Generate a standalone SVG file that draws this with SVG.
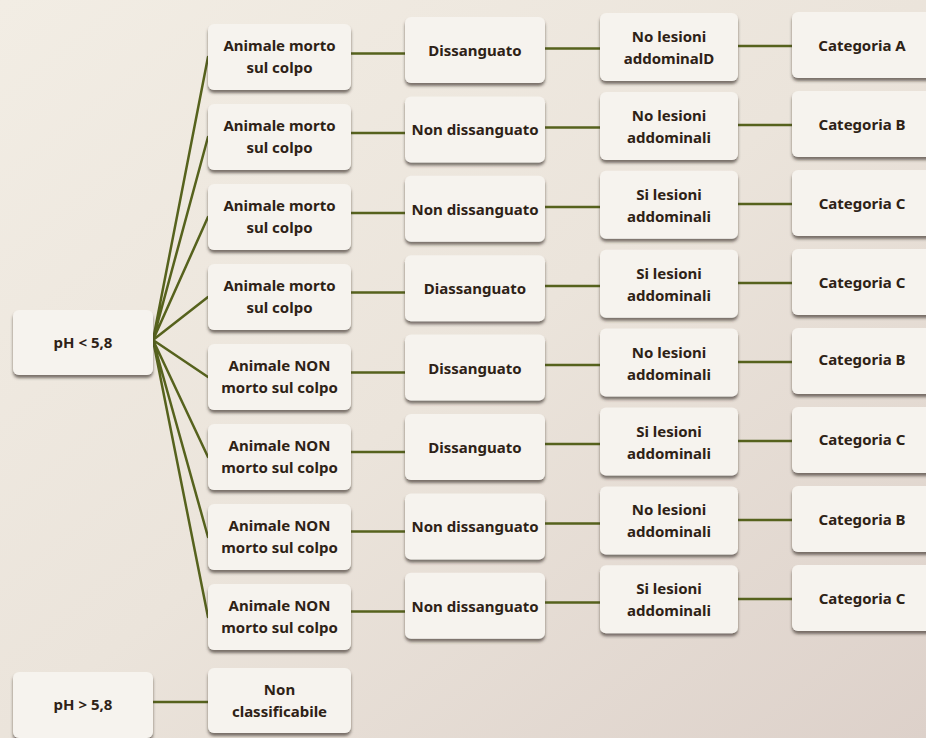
<svg xmlns="http://www.w3.org/2000/svg" width="926" height="738" viewBox="0 0 926 738">
<defs>
<linearGradient id="bg" x1="0" y1="0" x2="1" y2="1">
<stop offset="0" stop-color="#f2ede4"/>
<stop offset="0.5" stop-color="#ebe4db"/>
<stop offset="1" stop-color="#ddd1ca"/>
</linearGradient>
<filter id="sh" x="-10%" y="-10%" width="130%" height="140%">
<feDropShadow dx="0" dy="3" stdDeviation="1.8" flood-color="#3b302a" flood-opacity="0.65"/>
</filter>
<style>
.b{fill:#f6f3ee;filter:url(#sh)}
.t{font-family:"Noto Sans","Open Sans",sans-serif;font-weight:bold;font-size:15px;fill:#2e2216;text-anchor:middle;dominant-baseline:central}
.c{stroke:#56621d;stroke-width:2.5;fill:none;stroke-linecap:round}
</style>
</defs>
<rect width="926" height="738" fill="url(#bg)"/>

<g id="connectors" class="c">
<path d="M153 340L208 57M153 340L208 137M153 340L208 217M153 340L208 297M153 340L208 377M153 340L208 457M153 340L208 537M153 340L208 617"/>
<path d="M351 53.5H405M351 133H405M351 213H405M351 292.5H405M351 372.5H405M351 452H405M351 531.5H405M351 611.5H405"/>
<path d="M545 48.5H600M545 127.5H600M545 207H600M545 286H600M545 365H600M545 444H600M545 523.5H600M545 602.5H600"/>
<path d="M738 46H792M738 125H792M738 204H792M738 283H792M738 362H792M738 441H792M738 520H792M738 599H792"/>
<path d="M153 702H208"/>
</g>

<g id="ph_low"><rect class="b" x="13" y="310" width="140" height="65" rx="6"/><text class="t" x="83" y="342">pH &lt; 5,8</text></g>
<g id="ph_high"><rect class="b" x="13" y="672" width="140" height="66" rx="6"/><text class="t" x="83" y="704">pH &gt; 5,8</text></g>
<g id="non_class"><rect class="b" x="208" y="668" width="143" height="65" rx="6"/><text class="t" x="279.5" y="689">Non</text><text class="t" x="279.5" y="711">classificabile</text></g>

<g id="a1"><rect class="b" x="208" y="24" width="143" height="66" rx="6"/><text class="t" x="279.5" y="45">Animale morto</text><text class="t" x="279.5" y="67">sul colpo</text></g>
<g id="a2"><rect class="b" x="208" y="104" width="143" height="66" rx="6"/><text class="t" x="279.5" y="125">Animale morto</text><text class="t" x="279.5" y="147">sul colpo</text></g>
<g id="a3"><rect class="b" x="208" y="184" width="143" height="66" rx="6"/><text class="t" x="279.5" y="205">Animale morto</text><text class="t" x="279.5" y="227">sul colpo</text></g>
<g id="a4"><rect class="b" x="208" y="264" width="143" height="66" rx="6"/><text class="t" x="279.5" y="285">Animale morto</text><text class="t" x="279.5" y="307">sul colpo</text></g>
<g id="a5"><rect class="b" x="208" y="344" width="143" height="66" rx="6"/><text class="t" x="279.5" y="365">Animale NON</text><text class="t" x="279.5" y="387">morto sul colpo</text></g>
<g id="a6"><rect class="b" x="208" y="424" width="143" height="66" rx="6"/><text class="t" x="279.5" y="445">Animale NON</text><text class="t" x="279.5" y="467">morto sul colpo</text></g>
<g id="a7"><rect class="b" x="208" y="504" width="143" height="66" rx="6"/><text class="t" x="279.5" y="525">Animale NON</text><text class="t" x="279.5" y="547">morto sul colpo</text></g>
<g id="a8"><rect class="b" x="208" y="584" width="143" height="66" rx="6"/><text class="t" x="279.5" y="605">Animale NON</text><text class="t" x="279.5" y="627">morto sul colpo</text></g>

<g id="d1"><rect class="b" x="405" y="17" width="140" height="66" rx="6"/><text class="t" x="475" y="50">Dissanguato</text></g>
<g id="d2"><rect class="b" x="405" y="96.4" width="140" height="66" rx="6"/><text class="t" x="475" y="129.4">Non dissanguato</text></g>
<g id="d3"><rect class="b" x="405" y="175.8" width="140" height="66" rx="6"/><text class="t" x="475" y="208.8">Non dissanguato</text></g>
<g id="d4"><rect class="b" x="405" y="255.2" width="140" height="66" rx="6"/><text class="t" x="475" y="288.2">Diassanguato</text></g>
<g id="d5"><rect class="b" x="405" y="334.6" width="140" height="66" rx="6"/><text class="t" x="475" y="367.6">Dissanguato</text></g>
<g id="d6"><rect class="b" x="405" y="414" width="140" height="66" rx="6"/><text class="t" x="475" y="447">Dissanguato</text></g>
<g id="d7"><rect class="b" x="405" y="493.4" width="140" height="66" rx="6"/><text class="t" x="475" y="526.4">Non dissanguato</text></g>
<g id="d8"><rect class="b" x="405" y="572.8" width="140" height="66" rx="6"/><text class="t" x="475" y="605.8">Non dissanguato</text></g>

<g id="l1"><rect class="b" x="600" y="13" width="138" height="68" rx="6"/><text class="t" x="669" y="36">No lesioni</text><text class="t" x="669" y="58">addominalD</text></g>
<g id="l2"><rect class="b" x="600" y="91.9" width="138" height="68" rx="6"/><text class="t" x="669" y="114.9">No lesioni</text><text class="t" x="669" y="136.9">addominali</text></g>
<g id="l3"><rect class="b" x="600" y="170.8" width="138" height="68" rx="6"/><text class="t" x="669" y="193.8">Si lesioni</text><text class="t" x="669" y="215.8">addominali</text></g>
<g id="l4"><rect class="b" x="600" y="249.7" width="138" height="68" rx="6"/><text class="t" x="669" y="272.7">Si lesioni</text><text class="t" x="669" y="294.7">addominali</text></g>
<g id="l5"><rect class="b" x="600" y="328.6" width="138" height="68" rx="6"/><text class="t" x="669" y="351.6">No lesioni</text><text class="t" x="669" y="373.6">addominali</text></g>
<g id="l6"><rect class="b" x="600" y="407.5" width="138" height="68" rx="6"/><text class="t" x="669" y="430.5">Si lesioni</text><text class="t" x="669" y="452.5">addominali</text></g>
<g id="l7"><rect class="b" x="600" y="486.4" width="138" height="68" rx="6"/><text class="t" x="669" y="509.4">No lesioni</text><text class="t" x="669" y="531.4">addominali</text></g>
<g id="l8"><rect class="b" x="600" y="565.3" width="138" height="68" rx="6"/><text class="t" x="669" y="588.3">Si lesioni</text><text class="t" x="669" y="610.3">addominali</text></g>

<g id="c1"><rect class="b" x="792" y="12" width="150" height="66" rx="6"/><text class="t" x="862" y="45">Categoria A</text></g>
<g id="c2"><rect class="b" x="792" y="91" width="150" height="66" rx="6"/><text class="t" x="862" y="124">Categoria B</text></g>
<g id="c3"><rect class="b" x="792" y="170" width="150" height="66" rx="6"/><text class="t" x="862" y="203">Categoria C</text></g>
<g id="c4"><rect class="b" x="792" y="249" width="150" height="66" rx="6"/><text class="t" x="862" y="282">Categoria C</text></g>
<g id="c5"><rect class="b" x="792" y="328" width="150" height="66" rx="6"/><text class="t" x="862" y="359">Categoria B</text></g>
<g id="c6"><rect class="b" x="792" y="407" width="150" height="66" rx="6"/><text class="t" x="862" y="439">Categoria C</text></g>
<g id="c7"><rect class="b" x="792" y="486" width="150" height="66" rx="6"/><text class="t" x="862" y="519">Categoria B</text></g>
<g id="c8"><rect class="b" x="792" y="565" width="150" height="66" rx="6"/><text class="t" x="862" y="598">Categoria C</text></g>
</svg>
